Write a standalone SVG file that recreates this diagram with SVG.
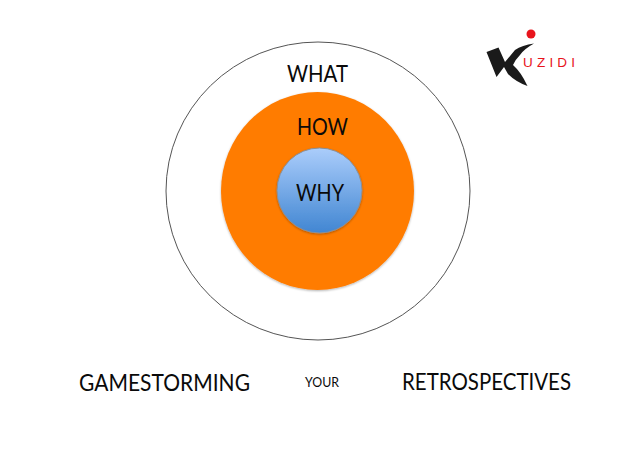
<svg xmlns="http://www.w3.org/2000/svg" width="640" height="453" viewBox="0 0 640 453">
<style>
text{font-family:"Lato","Carlito","Open Sans",sans-serif;fill:#0a0a0a;text-anchor:start}
.l{font-size:23px}
</style>
<defs>
<linearGradient id="b" x1="0" y1="0" x2="0" y2="1"><stop offset="0" stop-color="#abcdfb"/><stop offset="1" stop-color="#4186d2"/></linearGradient>
<filter id="s" x="-10%" y="-10%" width="120%" height="120%"><feDropShadow dx="0" dy="1" stdDeviation="1" flood-color="#000" flood-opacity=".3"/></filter>
</defs>
<rect width="640" height="453" fill="#fff"/>
<g id="what"><ellipse cx="318" cy="191" rx="152" ry="149" fill="#fff" stroke="#555" stroke-width="1"/><text class="l" x="287" y="82" textLength="61" lengthAdjust="spacingAndGlyphs">WHAT</text></g>
<g id="how"><ellipse cx="317.500" cy="191" rx="96.500" ry="99" fill="#ff7c00" filter="url(#s)"/><text class="l" x="297" y="135" textLength="51" lengthAdjust="spacingAndGlyphs">HOW</text></g>
<g id="why"><circle cx="319.500" cy="190.500" r="42.500" fill="url(#b)" stroke="#8a8f98" stroke-width="1" filter="url(#s)"/><text class="l" x="296" y="201" textLength="48" lengthAdjust="spacingAndGlyphs">WHY</text></g>
<g id="logo">
<path d="M486.500 52L498.500 47.500L505 62L515 50Q522 45 534 43.500Q524 49 520 55Q515 60 513 65Q521 72 527.500 86Q516 82 508 74L504 67L496.500 77Z" fill="#1a1a1a"/>
<circle cx="531" cy="34" r="4.500" fill="#e8141c"/>
<text x="523" y="67" style="font-size:13.500px;letter-spacing:4.200px;fill:#e8141c;font-family:'Liberation Sans',sans-serif">UZIDI</text>
</g>
<g id="captions">
<text class="l" x="79" y="391" textLength="171" lengthAdjust="spacingAndGlyphs">GAMESTORMING</text>
<text x="305" y="387" textLength="34" lengthAdjust="spacingAndGlyphs" style="font-size:12.500px">YOUR</text>
<text class="l" x="402" y="390" textLength="169" lengthAdjust="spacingAndGlyphs">RETROSPECTIVES</text>
</g>
</svg>
